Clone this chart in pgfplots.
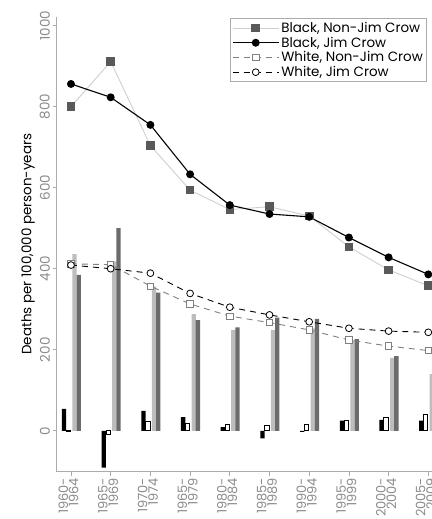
\documentclass[border=0pt]{standalone}
\usepackage{pgfplots}
\pgfplotsset{compat=1.18}
\usepackage{fontspec}
\setmainfont{Poppins}
\definecolor{lgray}{HTML}{BDBDBD}
\definecolor{dgray}{HTML}{6B6B6B}
\definecolor{sqgray}{HTML}{595959}
\definecolor{linegray}{HTML}{CFCFCF}
\definecolor{axgray}{HTML}{ABABAB}
\definecolor{tickgray}{HTML}{8C8C8C}
\definecolor{wgray}{HTML}{7F7F7F}
\begin{document}
\begin{tikzpicture}
\begin{scope}
\clip (-56.7bp,-47.3bp) rectangle (375.3bp,471.7bp);
\begin{axis}[
  scale only axis, width=385.9bp, height=455bp,
  xmin=-0.36, xmax=9.36, ymin=-101, ymax=1022,
  axis x line*=bottom, axis y line*=left,
  axis line style={axgray, line width=0.9bp, -},
  tick style={axgray, line width=0.7bp},
  tick align=outside, major tick length=4bp,
  xtick={0,...,9},
  xticklabels={{1960-\\1964},{1965-\\1969},{1970-\\1974},{1965-\\1979},{1980-\\1984},{1985-\\1989},{1990-\\1994},{1995-\\1999},{2000-\\2004},{2005-\\2009}},
  xticklabel style={xshift=-2.5bp, rotate=90, anchor=east, align=right, font=\fontsize{13}{10.5}\selectfont, text=tickgray, inner sep=2bp},
  ytick={0,200,...,1000},
  yticklabel style={rotate=90, anchor=south, font=\fontsize{13.5}{13.5}\selectfont, text=tickgray, inner sep=2.5bp},
  /pgf/number format/assume math mode=true,
  /pgf/number format/1000 sep={},
  ylabel={Deaths per 100,000 person-years},
  ylabel style={font=\fontsize{13.5}{13.5}\selectfont, text=black, yshift=-1bp},
  legend style={at={(rel axis cs:0.9588,0.9965)}, anchor=north east, draw=axgray, line width=0.8bp, font=\fontsize{13.5}{13}\selectfont, inner sep=1.5bp, row sep=-1bp, /tikz/every even column/.append style={column sep=3bp}},
  legend cell align=left,
  legend image code/.code={\draw[mark repeat=2,mark phase=2,#1] plot coordinates {(0bp,0bp) (23bp,0bp) (46bp,0bp)};},
]
% bars
\addplot[ybar, forget plot, bar width=0.108, bar shift=-0.176, fill=black, draw=none] coordinates {(0,54) (1,-91) (2,49) (3,34) (4,9) (5,-19) (6,-3) (7,25) (8,27) (9,25)};
\addplot[ybar, forget plot, bar width=0.108, bar shift=-0.063, fill=white, draw=black, line width=1bp] coordinates {(0,-3) (1,-10) (2,24) (3,19) (4,16) (5,12) (6,16) (7,26) (8,34) (9,39)};
\addplot[ybar, forget plot, bar width=0.108, bar shift=0.09, fill=lgray, draw=none] coordinates {(0,436) (1,418) (2,356) (3,288) (4,249) (5,249) (6,253) (7,224) (8,180) (9,140)};
\addplot[ybar, forget plot, bar width=0.108, bar shift=0.196, fill=dgray, draw=none] coordinates {(0,385) (1,500) (2,341) (3,273) (4,255) (5,279) (6,276) (7,226) (8,184) (9,160)};
% lines
\addplot[linegray, line width=0.9bp, mark=square*, mark size=3.8bp, mark options={fill=sqgray, draw=sqgray, solid}] coordinates {(0,800) (1,911) (2,704) (3,594) (4,546) (5,553) (6,530) (7,454) (8,397) (9,358)};
\addlegendentry{Black, Non-Jim Crow}
\addplot[black, line width=1.1bp, mark=*, mark size=3.4bp, mark options={fill=black, solid}] coordinates {(0,856) (1,823) (2,755) (3,633) (4,557) (5,535) (6,528) (7,477) (8,428) (9,386)};
\addlegendentry{Black, Jim Crow}
\addplot[wgray, line width=0.9bp, dash pattern=on 6bp off 5bp, mark=square*, mark size=3.2bp, mark options={fill=white, draw=wgray, solid, line width=0.8bp}] coordinates {(0,412) (1,410) (2,357) (3,313) (4,283) (5,267) (6,249) (7,224) (8,209) (9,198)};
\addlegendentry{White, Non-Jim Crow}
\addplot[black, line width=0.9bp, dash pattern=on 6bp off 5bp, mark=*, mark size=3.4bp, mark options={fill=white, draw=black, solid, line width=0.8bp}] coordinates {(0,409) (1,400) (2,389) (3,339) (4,305) (5,286) (6,269) (7,253) (8,246) (9,243)};
\addlegendentry{White, Jim Crow}
\end{axis}
\end{scope}
\pgfresetboundingbox
\useasboundingbox (-56.7bp,-47.3bp) rectangle (375.3bp,471.7bp);
\end{tikzpicture}
\end{document}
